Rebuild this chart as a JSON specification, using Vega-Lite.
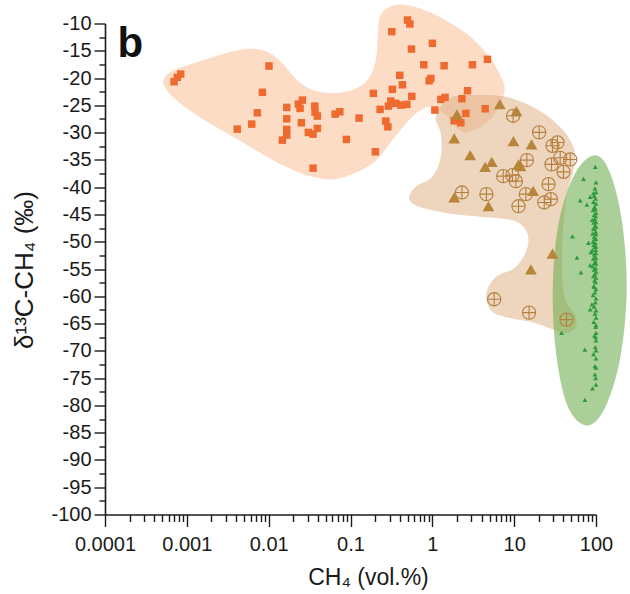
{
  "$schema": "https://vega.github.io/schema/vega-lite/v6.json",
  "width": 491,
  "height": 491,
  "autosize": "none",
  "padding": {"left": 105, "top": 23.5, "right": 34, "bottom": 79.5},
  "background": "white",
  "config": {"view": {"stroke": null}, "font": "Liberation Sans"},
  "datasets": {
    "blobOrange": [
      {"x": 0.000512, "y": -20.73}, {"x": 0.000635, "y": -18.84}, {"x": 0.0017, "y": -16.57}, {"x": 0.00435, "y": -14.86},
      {"x": 0.0083, "y": -14.86}, {"x": 0.0134, "y": -16.7}, {"x": 0.0236, "y": -20.73}, {"x": 0.0413, "y": -22.51},
      {"x": 0.0877, "y": -22.51}, {"x": 0.154, "y": -20.68}, {"x": 0.204, "y": -16.7}, {"x": 0.224, "y": -9.36},
      {"x": 0.296, "y": -7.03}, {"x": 0.474, "y": -6.61}, {"x": 1.0, "y": -8.13}, {"x": 2.57, "y": -11.8},
      {"x": 4.94, "y": -16.09}, {"x": 7.19, "y": -20.37}, {"x": 7.55, "y": -22.81}, {"x": 6.25, "y": -25.87},
      {"x": 4.51, "y": -28.31}, {"x": 2.82, "y": -29.85}, {"x": 2.13, "y": -29.54}, {"x": 1.46, "y": -26.79},
      {"x": 1.0, "y": -25.27}, {"x": 0.723, "y": -25.87}, {"x": 0.52, "y": -27.71}, {"x": 0.325, "y": -31.38},
      {"x": 0.185, "y": -35.65}, {"x": 0.0726, "y": -38.4}, {"x": 0.0342, "y": -38.11}, {"x": 0.0134, "y": -35.65},
      {"x": 0.00435, "y": -31.38}, {"x": 0.00141, "y": -27.1}, {"x": 0.000666, "y": -23.43}, {"x": 0.000526, "y": -21.28}
    ],
    "blobTan": [
      {"x": 1.104, "y": -27.1}, {"x": 1.6, "y": -23.72}, {"x": 3.4, "y": -23.12}, {"x": 7.91, "y": -23.43},
      {"x": 16.7, "y": -25.27}, {"x": 29.4, "y": -27.71}, {"x": 47.0, "y": -31.06}, {"x": 55.7, "y": -35.05},
      {"x": 43.2, "y": -42.39}, {"x": 38.6, "y": -51.56}, {"x": 40.8, "y": -59.82}, {"x": 55.7, "y": -63.49},
      {"x": 55.7, "y": -65.87}, {"x": 42.0, "y": -66.79}, {"x": 29.4, "y": -66.06}, {"x": 16.7, "y": -64.77},
      {"x": 7.91, "y": -63.85}, {"x": 5.19, "y": -62.57}, {"x": 4.58, "y": -59.5}, {"x": 5.97, "y": -56.46},
      {"x": 10.5, "y": -54.62}, {"x": 14.6, "y": -50.95}, {"x": 13.9, "y": -47.89}, {"x": 9.53, "y": -46.06},
      {"x": 4.1, "y": -45.45}, {"x": 1.6, "y": -44.83}, {"x": 0.69, "y": -43.61}, {"x": 0.52, "y": -42.07},
      {"x": 0.628, "y": -39.94}, {"x": 1.0, "y": -38.11}, {"x": 1.27, "y": -34.44}, {"x": 1.27, "y": -30.15}
    ],
    "ellipse": [
      {"x": 237, "y": -58.9}, {"x": 209, "y": -46.51}, {"x": 149, "y": -37.43}, {"x": 97.7, "y": -34.13},
      {"x": 55.7, "y": -37.43}, {"x": 35.0, "y": -46.51}, {"x": 29.6, "y": -58.9}, {"x": 33.1, "y": -71.28},
      {"x": 45.7, "y": -80.37}, {"x": 78.0, "y": -83.67}, {"x": 129.5, "y": -80.37}, {"x": 198, "y": -71.28}
    ],
    "orange": [
      {"x": 0.000841, "y": -19.27}, {"x": 0.000766, "y": -19.87}, {"x": 0.000698, "y": -20.68}, {"x": 0.0101, "y": -17.8},
      {"x": 0.00838, "y": -22.62}, {"x": 0.00727, "y": -26.37}, {"x": 0.00621, "y": -28.44}, {"x": 0.00414, "y": -29.36},
      {"x": 0.01663, "y": -25.38}, {"x": 0.01663, "y": -27.47}, {"x": 0.02306, "y": -24.77}, {"x": 0.02582, "y": -24.04},
      {"x": 0.0242, "y": -25.56}, {"x": 0.0251, "y": -28.2}, {"x": 0.01663, "y": -29.41}, {"x": 0.01663, "y": -30.46},
      {"x": 0.0147, "y": -31.38}, {"x": 0.0366, "y": -25.14}, {"x": 0.0369, "y": -26.24}, {"x": 0.0394, "y": -26.97},
      {"x": 0.0394, "y": -29.23}, {"x": 0.0305, "y": -29.96}, {"x": 0.0349, "y": -30.28}, {"x": 0.0649, "y": -26.61},
      {"x": 0.074, "y": -26.18}, {"x": 0.1274, "y": -27.34}, {"x": 0.0891, "y": -31.25}, {"x": 0.0349, "y": -36.51},
      {"x": 0.2014, "y": -33.52}, {"x": 0.1904, "y": -22.81}, {"x": 0.2301, "y": -25.74}, {"x": 0.2701, "y": -27.89},
      {"x": 0.2859, "y": -28.94}, {"x": 0.2906, "y": -25.14}, {"x": 0.311, "y": -24.22}, {"x": 0.358, "y": -24.64},
      {"x": 0.412, "y": -24.95}, {"x": 0.488, "y": -24.83}, {"x": 0.325, "y": -22.07}, {"x": 0.431, "y": -21.23},
      {"x": 0.4, "y": -19.5}, {"x": 0.561, "y": -23.36}, {"x": 0.32, "y": -11.5}, {"x": 0.497, "y": -9.36},
      {"x": 0.531, "y": -10.09}, {"x": 0.556, "y": -14.68}, {"x": 1.002, "y": -13.63}, {"x": 0.787, "y": -17.56},
      {"x": 1.393, "y": -17.74}, {"x": 0.914, "y": -20.5}, {"x": 0.959, "y": -20.06}, {"x": 3.09, "y": -17.56},
      {"x": 4.72, "y": -16.57}, {"x": 2.69, "y": -22.33}, {"x": 2.3, "y": -23.8}, {"x": 1.27, "y": -23.91},
      {"x": 1.43, "y": -23.54}, {"x": 1.074, "y": -25.87}, {"x": 2.57, "y": -26.48}, {"x": 1.85, "y": -27.83},
      {"x": 2.23, "y": -28.2}, {"x": 4.42, "y": -25.63}
    ],
    "tanTri": [
      {"x": 6.68, "y": -24.77}, {"x": 10.66, "y": -26.06}, {"x": 1.995, "y": -26.66}, {"x": 1.85, "y": -31.06},
      {"x": 9.8, "y": -31.56}, {"x": 16.3, "y": -32.17}, {"x": 2.9, "y": -34.13}, {"x": 5.33, "y": -35.36},
      {"x": 4.42, "y": -36.28}, {"x": 11.3, "y": -35.83}, {"x": 11.95, "y": -36.15}, {"x": 17.06, "y": -40.68},
      {"x": 1.85, "y": -41.89}, {"x": 4.85, "y": -43.49}, {"x": 29.4, "y": -52.17}, {"x": 16.0, "y": -55.05}
    ],
    "tanCirc": [
      {"x": 9.72, "y": -26.92}, {"x": 20.2, "y": -29.96}, {"x": 33.8, "y": -31.8}, {"x": 29.4, "y": -32.42},
      {"x": 14.3, "y": -35.05}, {"x": 36.5, "y": -34.62}, {"x": 48.4, "y": -34.92}, {"x": 28.6, "y": -35.83},
      {"x": 40.1, "y": -37.19}, {"x": 7.35, "y": -37.98}, {"x": 9.53, "y": -37.8}, {"x": 10.5, "y": -38.9},
      {"x": 26.3, "y": -39.45}, {"x": 13.9, "y": -41.28}, {"x": 28.1, "y": -42.2}, {"x": 23.3, "y": -42.81},
      {"x": 11.3, "y": -43.49}, {"x": 2.3, "y": -40.97}, {"x": 4.58, "y": -41.28}, {"x": 5.7, "y": -60.55},
      {"x": 15.2, "y": -62.99}, {"x": 43.6, "y": -64.28}
    ],
    "green": [
      {"x": 98, "y": -36.3}, {"x": 70.3, "y": -38.5}, {"x": 100, "y": -39.1}, {"x": 64.1, "y": -42.4},
      {"x": 77.4, "y": -43.2}, {"x": 85, "y": -41.8}, {"x": 93.3, "y": -41.1}, {"x": 51.6, "y": -49.0},
      {"x": 58.5, "y": -52.9}, {"x": 65.4, "y": -55.6}, {"x": 80.9, "y": -50.2}, {"x": 86.6, "y": -51.9},
      {"x": 85, "y": -54.3}, {"x": 89.2, "y": -61.5}, {"x": 85, "y": -62.4}, {"x": 95, "y": -58.3},
      {"x": 37.9, "y": -66.7}, {"x": 73.1, "y": -69.8}, {"x": 93.3, "y": -70.6}, {"x": 100, "y": -69.9},
      {"x": 100, "y": -73.1}, {"x": 97, "y": -72.8}, {"x": 100, "y": -76.2}, {"x": 90.6, "y": -76.9},
      {"x": 73.1, "y": -79.0}, {"x": 100, "y": -65.3}, {"x": 99, "y": -67.5}, {"x": 100, "y": -66.7},
      {"x": 97, "y": -40.2}, {"x": 100, "y": -40.9}, {"x": 95, "y": -41.6}, {"x": 99, "y": -42.1},
      {"x": 93, "y": -42.7}, {"x": 100, "y": -43.0}, {"x": 96, "y": -43.6}, {"x": 98, "y": -44.0},
      {"x": 92, "y": -44.2}, {"x": 100, "y": -44.7}, {"x": 95, "y": -45.1}, {"x": 99, "y": -45.3},
      {"x": 97, "y": -45.8}, {"x": 90, "y": -46.0}, {"x": 100, "y": -46.4}, {"x": 94, "y": -46.5},
      {"x": 98, "y": -47.0}, {"x": 100, "y": -47.3}, {"x": 93, "y": -47.6}, {"x": 96, "y": -47.7},
      {"x": 99, "y": -48.2}, {"x": 91, "y": -48.5}, {"x": 100, "y": -48.6}, {"x": 95, "y": -49.1},
      {"x": 97, "y": -49.4}, {"x": 100, "y": -49.5}, {"x": 92, "y": -50.0}, {"x": 98, "y": -50.2},
      {"x": 94, "y": -50.6}, {"x": 100, "y": -50.9}, {"x": 96, "y": -51.0}, {"x": 99, "y": -51.5},
      {"x": 90, "y": -51.6}, {"x": 100, "y": -52.1}, {"x": 95, "y": -52.3}, {"x": 97, "y": -52.7},
      {"x": 100, "y": -53.0}, {"x": 93, "y": -53.1}, {"x": 98, "y": -53.6}, {"x": 96, "y": -53.9},
      {"x": 100, "y": -54.0}, {"x": 91, "y": -54.5}, {"x": 99, "y": -54.8}, {"x": 95, "y": -55.1},
      {"x": 100, "y": -55.5}, {"x": 97, "y": -55.9}, {"x": 93, "y": -56.3}, {"x": 100, "y": -56.6},
      {"x": 96, "y": -57.1}, {"x": 99, "y": -57.4}, {"x": 94, "y": -58.1}, {"x": 100, "y": -58.7},
      {"x": 97, "y": -59.3}, {"x": 92, "y": -59.8}, {"x": 100, "y": -60.4}, {"x": 98, "y": -61.1},
      {"x": 95, "y": -61.9}, {"x": 100, "y": -62.6}, {"x": 97, "y": -63.2}, {"x": 100, "y": -63.9},
      {"x": 94, "y": -64.7}, {"x": 99, "y": -65.6}, {"x": 96, "y": -67.2}, {"x": 100, "y": -68.1},
      {"x": 98, "y": -69.3}, {"x": 100, "y": -71.4}, {"x": 97, "y": -74.3}, {"x": 99, "y": -75.0}
    ],
    "label": [{"x": 0.000142, "y": -16.2, "t": "b"}]
  },
  "encoding": {
    "x": {
      "field": "x", "type": "quantitative",
      "scale": {"type": "log", "domain": [0.0001, 100], "nice": false},
      "axis": {
        "title": "CH₄ (vol.%)",
        "values": [0.0001, 0.0002, 0.0003, 0.0004, 0.0005, 0.0006, 0.0007, 0.0008, 0.0009,
                   0.001, 0.002, 0.003, 0.004, 0.005, 0.006, 0.007, 0.008, 0.009,
                   0.01, 0.02, 0.03, 0.04, 0.05, 0.06, 0.07, 0.08, 0.09,
                   0.1, 0.2, 0.3, 0.4, 0.5, 0.6, 0.7, 0.8, 0.9,
                   1, 2, 3, 4, 5, 6, 7, 8, 9,
                   10, 20, 30, 40, 50, 60, 70, 80, 90, 100],
        "labelExpr": "indexof(['0.0001','0.001','0.01','0.1','1','10','100'], toString(datum.value)) >= 0 ? toString(datum.value) : ''",
        "tickSize": {"condition": {"test": "indexof(['0.0001','0.001','0.01','0.1','1','10','100'], toString(datum.value)) >= 0", "value": 12}, "value": 7},
        "labelOverlap": false, "labelBound": false, "labelFlush": false,
        "labelFont": "Liberation Sans", "labelFontSize": 20, "labelColor": "#1a1a1a", "labelPadding": 8,
        "domainColor": "#1a1a1a", "domainWidth": 1.6, "tickColor": "#1a1a1a", "tickWidth": 1.4,
        "grid": false,
        "titleFont": "Liberation Sans", "titleFontSize": 23, "titleFontWeight": "normal", "titleColor": "#1a1a1a",
        "titleX": 263, "titleY": 70, "titleBaseline": "alphabetic", "titleAlign": "center"
      }
    },
    "y": {
      "field": "y", "type": "quantitative",
      "scale": {"domain": [-100, -10], "nice": false, "zero": false},
      "axis": {
        "title": "δ¹³C-CH₄ (‰)",
        "values": [-100, -97.5, -95, -92.5, -90, -87.5, -85, -82.5, -80, -77.5, -75, -72.5, -70, -67.5, -65, -62.5,
                   -60, -57.5, -55, -52.5, -50, -47.5, -45, -42.5, -40, -37.5, -35, -32.5, -30, -27.5, -25, -22.5,
                   -20, -17.5, -15, -12.5, -10],
        "labelExpr": "datum.value % 5 === 0 ? toString(datum.value) : ''",
        "tickSize": {"condition": {"test": "datum.value % 5 === 0", "value": 11}, "value": 6},
        "labelOverlap": false, "labelBound": false, "labelFlush": false,
        "labelFont": "Liberation Sans", "labelFontSize": 20, "labelColor": "#1a1a1a", "labelPadding": 3,
        "domainColor": "#1a1a1a", "domainWidth": 1.6, "tickColor": "#1a1a1a", "tickWidth": 1.4,
        "grid": false,
        "titleFont": "Liberation Sans", "titleFontSize": 26, "titleFontWeight": "normal", "titleColor": "#1a1a1a",
        "titleX": -73, "titleY": 246, "titleAngle": 270, "titleBaseline": "alphabetic", "titleAlign": "center"
      }
    }
  },
  "layer": [
    {"data": {"name": "blobOrange"}, "mark": {"type": "line", "interpolate": "cardinal-closed", "fill": "#fddcc6", "strokeWidth": 0, "strokeOpacity": 0}, "encoding": {"order": {"value": null}}},
    {"data": {"name": "blobTan"}, "mark": {"type": "line", "interpolate": "cardinal-closed", "fill": "#dcae82", "fillOpacity": 0.52, "strokeWidth": 0, "strokeOpacity": 0}, "encoding": {"order": {"value": null}}},
    {"data": {"name": "ellipse"}, "mark": {"type": "line", "interpolate": "cardinal-closed", "fill": "#73af53", "fillOpacity": 0.6, "strokeWidth": 0, "strokeOpacity": 0}, "encoding": {"order": {"value": null}}},
    {"data": {"name": "orange"}, "mark": {"type": "point", "shape": "square", "filled": true, "color": "#ee6a2e", "size": 56, "opacity": 1}},
    {"data": {"name": "tanTri"}, "mark": {"type": "point", "shape": "triangle-up", "filled": true, "color": "#b8863b", "size": 140, "opacity": 1}},
    {"data": {"name": "tanCirc"}, "mark": {"type": "point", "shape": "M-1,0A1,1,0,1,1,1,0A1,1,0,1,1,-1,0ZM-1,0L1,0M0,-1L0,1", "filled": false, "color": "#b5803f", "size": 175, "strokeWidth": 1.1, "opacity": 1}},
    {"data": {"name": "green"}, "mark": {"type": "point", "shape": "triangle-up", "filled": true, "color": "#2e9b3c", "size": 24, "opacity": 1}},
    {"data": {"name": "label"}, "mark": {"type": "text", "align": "left", "baseline": "alphabetic", "font": "Liberation Sans", "fontSize": 42, "fontWeight": "bold", "color": "#111111"}, "encoding": {"text": {"field": "t"}}}
  ]
}
